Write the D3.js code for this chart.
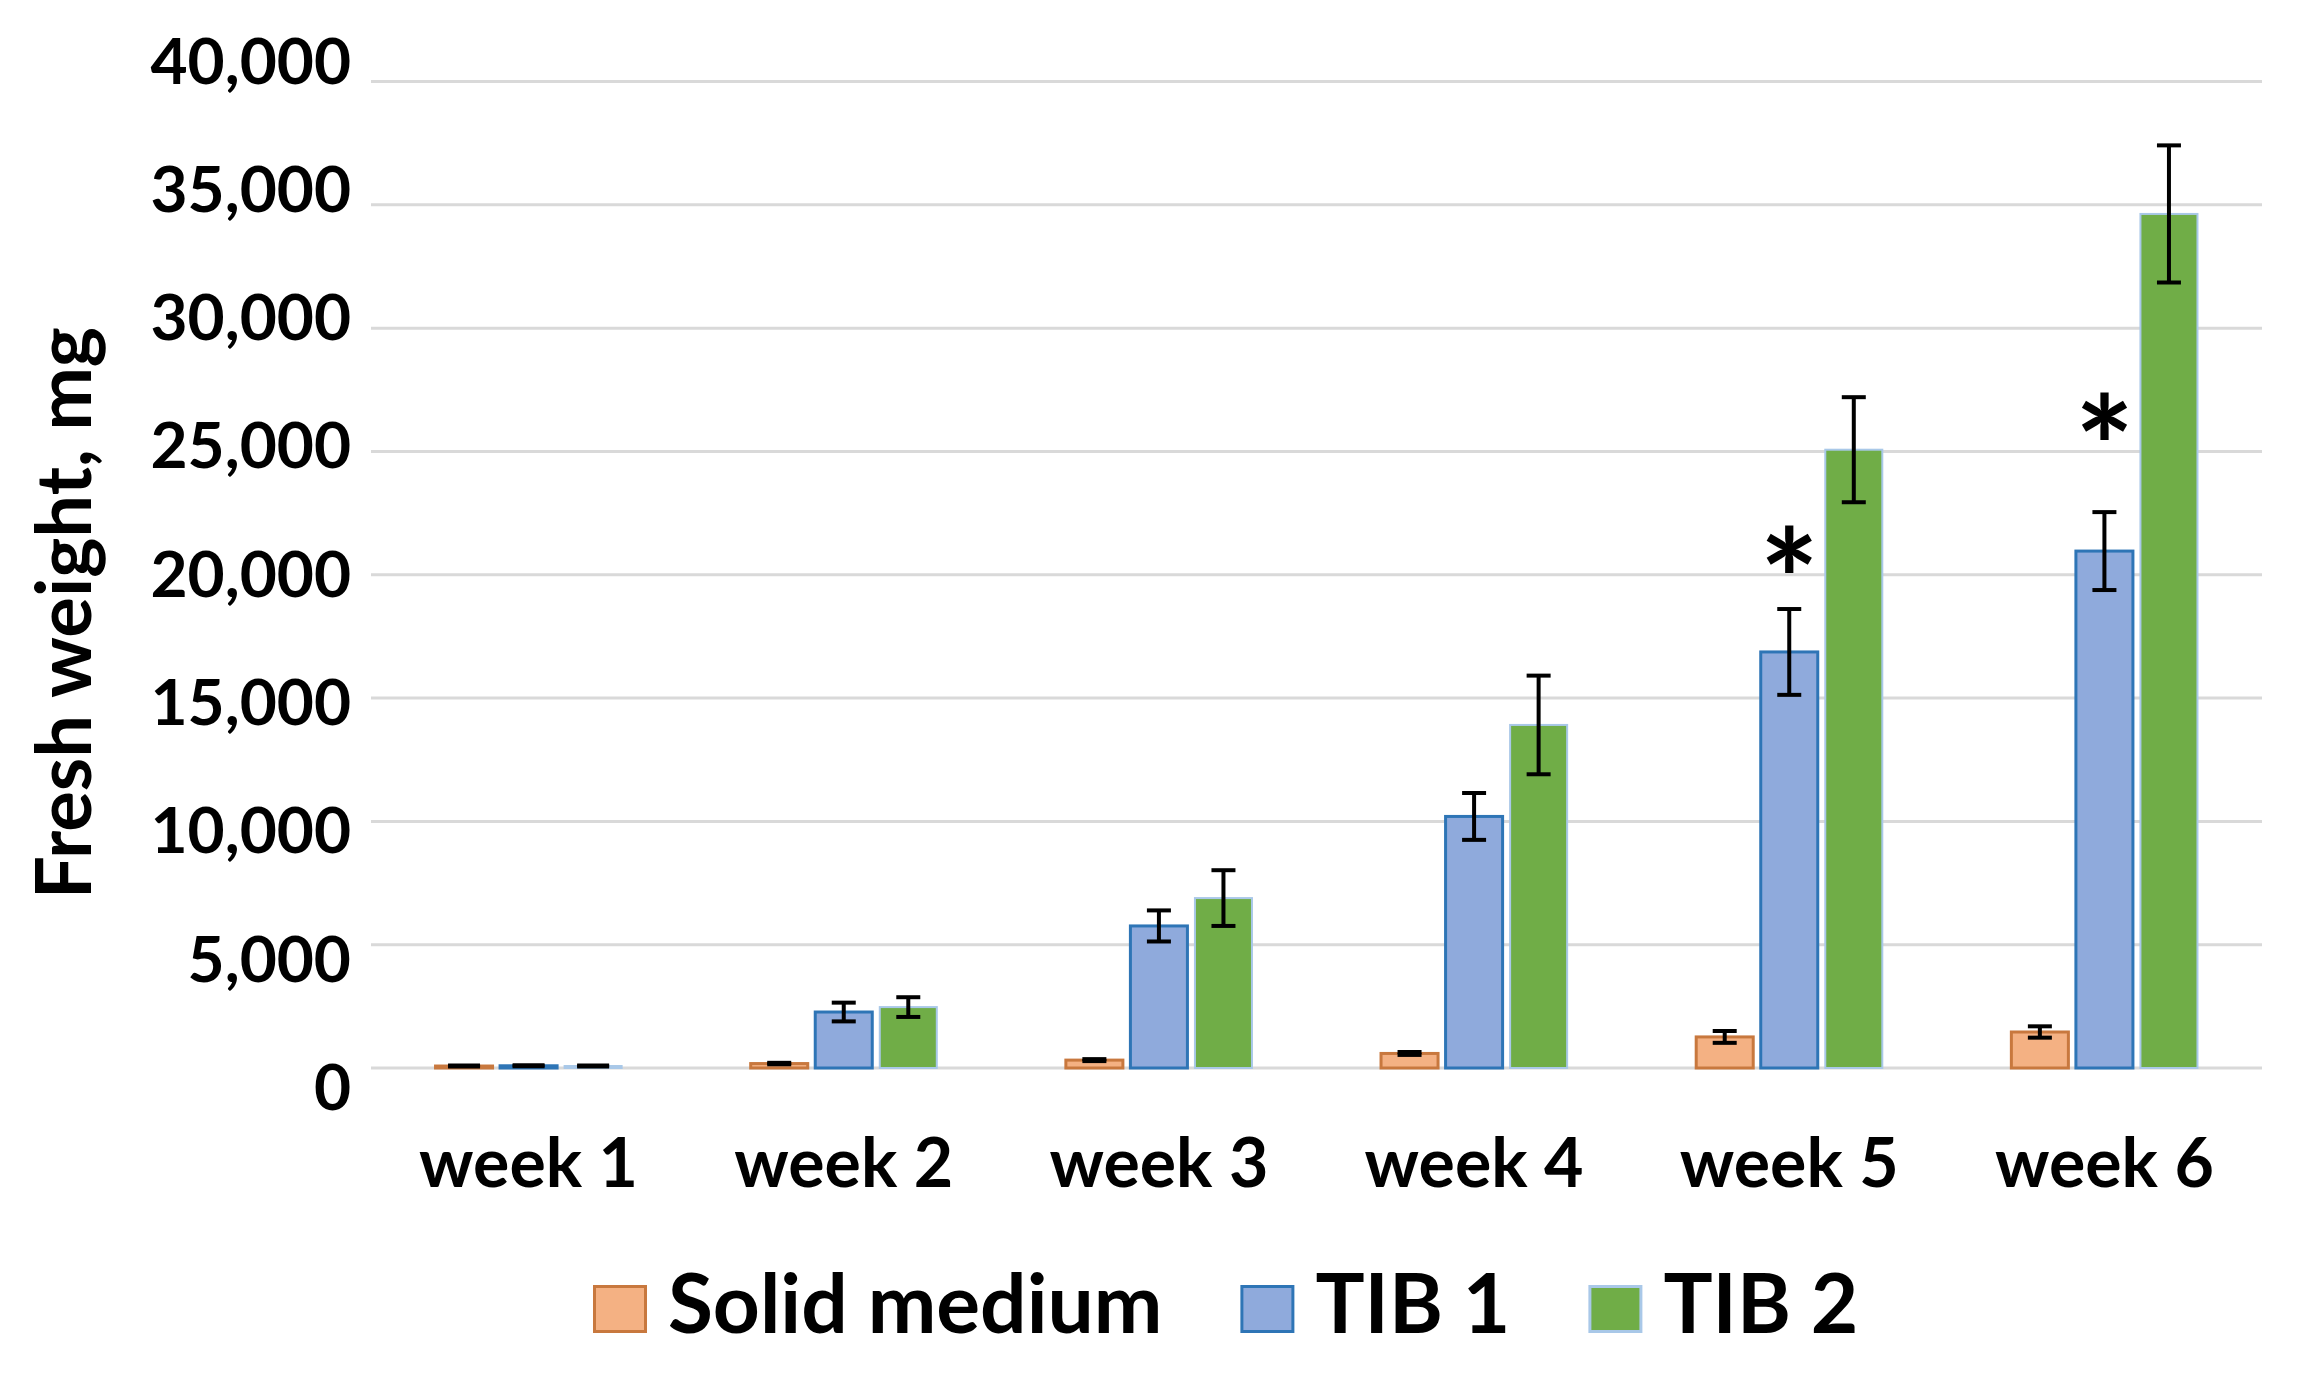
<!DOCTYPE html>
<html>
<head>
<meta charset="utf-8">
<script src="https://cdn.jsdelivr.net/npm/d3@7"></script>
<style>
  html, body { margin: 0; padding: 0; background: #fff; }
  text { font-family: Lato, "Open Sans", sans-serif; font-weight: bold; fill: #000; }
</style>
</head>
<body>
<svg id="chart" width="2308" height="1377"></svg>
<script>
/* data */
var weeks = ["week 1", "week 2", "week 3", "week 4", "week 5", "week 6"];
var seriesNames = ["Solid medium", "TIB 1", "TIB 2"];

var solid    = [80, 180, 320, 590, 1260, 1460];
var solidErr = [20, 30, 40, 60, 240, 230];
var tib1     = [90, 2270, 5760, 10200, 16870, 20960];
var tib1Err  = [20, 380, 630, 950, 1740, 1580];
var tib2     = [80, 2470, 6890, 13910, 25070, 34630];
var tib2Err  = [20, 400, 1130, 2000, 2130, 2780];

var yTicks = [0, 5000, 10000, 15000, 20000, 25000, 30000, 35000, 40000];

// significance marks over TIB 1
var starWeeks  = ["week 5", "week 6"];
var starLevels = [20600, 26000];

var fills   = ["#F4B183", "#8FAADC", "#70AD47"];
var strokes = ["#C8783E", "#2E75B6", "#A9C8E8"];

var svg = d3.select("#chart");
svg.append("rect").attr("width", 2308).attr("height", 1377).attr("fill", "#fff");

var x0 = d3.scaleBand().domain(weeks).range([371, 2262]).padding(0);
var x1 = d3.scaleBand().domain(seriesNames)
  .range([x0.bandwidth() * 0.2, x0.bandwidth() * 0.8]).paddingInner(0.07);

var y = d3.scaleLinear().domain([0, 40000]).range([1068, 81.5]);
// tick labels in the figure sit on a slightly stretched scale of their own
var yLab = d3.scaleLinear().domain([0, 40000]).range([1089, 62.6]);

/* gridlines */
svg.append("g")
  .selectAll("line")
  .data(yTicks)
  .join("line")
  .attr("x1", 371).attr("x2", 2262)
  .attr("y1", d => y(d)).attr("y2", d => y(d))
  .attr("stroke", "#D9D9D9")
  .attr("stroke-width", 3);

/* y tick labels */
var yAxis = svg.append("g")
  .attr("transform", "translate(351,0)")
  .call(d3.axisLeft(yLab).tickValues(yTicks).tickSize(0).tickPadding(0)
    .tickFormat(d3.format(",")));
yAxis.select(".domain").remove();
yAxis.selectAll("text")
  .attr("font-size", 64)
  .attr("font-family", "Lato, sans-serif")
  .attr("font-weight", "bold")
  .attr("fill", "#000");

/* x labels */
var xAxis = svg.append("g")
  .attr("transform", "translate(0,1068)")
  .call(d3.axisBottom(x0).tickSize(0).tickPadding(0));
xAxis.select(".domain").remove();
xAxis.selectAll("text")
  .attr("dy", null)
  .attr("y", 119)
  .attr("font-size", 68)
  .attr("font-family", "Lato, sans-serif")
  .attr("font-weight", "bold")
  .attr("fill", "#000");

/* axis title */
svg.append("text")
  .attr("transform", "translate(91,613) rotate(-90)")
  .attr("text-anchor", "middle")
  .attr("font-size", 76)
  .text("Fresh weight, mg");

/* bars */
var allVals = [solid, tib1, tib2];
var allErrs = [solidErr, tib1Err, tib2Err];
var rows = [];
weeks.forEach((w, i) => {
  seriesNames.forEach((s, k) => {
    rows.push({ week: w, series: s, k: k, value: allVals[k][i], err: allErrs[k][i] });
  });
});

var sw = 3;
svg.append("g")
  .selectAll("rect")
  .data(rows)
  .join("rect")
  .attr("x", d => x0(d.week) + x1(d.series) + sw / 2)
  .attr("width", x1.bandwidth() - sw)
  .attr("y", d => y(d.value))
  .attr("height", d => y(0) - y(d.value))
  .attr("fill", d => fills[d.k])
  .attr("stroke", d => strokes[d.k])
  .attr("stroke-width", d => d.k === 2 ? 2 : sw);

/* error bars */
var cap = 12;
var eb = svg.append("g").attr("stroke", "#000").attr("stroke-width", 4).attr("fill", "none");
rows.forEach(d => {
  var cx = x0(d.week) + x1(d.series) + x1.bandwidth() / 2;
  var y1 = y(d.value + d.err), y2 = y(d.value - d.err);
  var c = d.week === "week 1" ? 16 : cap;
  eb.append("line").attr("x1", cx).attr("x2", cx).attr("y1", y1).attr("y2", y2);
  eb.append("line").attr("x1", cx - c).attr("x2", cx + c).attr("y1", y1).attr("y2", y1);
  eb.append("line").attr("x1", cx - c).attr("x2", cx + c).attr("y1", y2).attr("y2", y2);
});

/* asterisks */
svg.append("g")
  .selectAll("text")
  .data(starWeeks)
  .join("text")
  .attr("x", d => x0(d) + x1("TIB 1") + x1.bandwidth() / 2)
  .attr("y", (d, i) => y(starLevels[i]) + 72)
  .attr("text-anchor", "middle")
  .attr("font-size", 140)
  .text("*");

/* legend */
var legend = svg.append("g").attr("transform", "translate(593,1285)");
var lx = 0;
seriesNames.forEach((s, k) => {
  var item = legend.append("g").attr("transform", "translate(" + lx + ",0)");
  item.append("rect")
    .attr("x", 1.5).attr("y", 1.5)
    .attr("width", 51).attr("height", 45)
    .attr("fill", fills[k])
    .attr("stroke", strokes[k])
    .attr("stroke-width", 3);
  var t = item.append("text")
    .attr("x", 75).attr("y", 48)
    .attr("font-size", 82)
    .text(s);
  lx += 75 + t.node().getComputedTextLength() + 78;
});
</script>
</body>
</html>
